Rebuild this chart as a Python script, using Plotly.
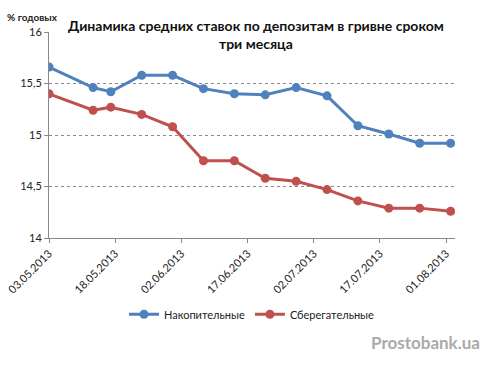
import plotly.graph_objects as go

dates = ["2013-05-03", "2013-05-13", "2013-05-17", "2013-05-24", "2013-05-31", "2013-06-07",
         "2013-06-14", "2013-06-21", "2013-06-28", "2013-07-05", "2013-07-12", "2013-07-19",
         "2013-07-26", "2013-08-02"]
nakop = [15.66, 15.46, 15.42, 15.58, 15.58, 15.45, 15.40, 15.39, 15.46, 15.38, 15.09, 15.01, 14.92, 14.92]
sber = [15.40, 15.24, 15.27, 15.20, 15.08, 14.75, 14.75, 14.58, 14.55, 14.47, 14.36, 14.29, 14.29, 14.26]
tick_dates = ["2013-05-03", "2013-05-18", "2013-06-02", "2013-06-17", "2013-07-02", "2013-07-17", "2013-08-01"]
tick_labels = ["03.05.2013", "18.05.2013", "02.06.2013", "17.06.2013", "02.07.2013", "17.07.2013", "01.08.2013"]
y_ticks = [14, 14.5, 15, 15.5, 16]
y_labels = ["14", "14,5", "15", "15,5", "16"]

FONT = "Lato, 'Open Sans', sans-serif"
BLUE = "#4F81BD"
RED = "#C0504D"

fig = go.Figure()
fig.add_trace(go.Scatter(x=dates, y=nakop, name="Накопительные", mode="lines+markers",
                         line=dict(color=BLUE, width=3), marker=dict(color=BLUE, size=9)))
fig.add_trace(go.Scatter(x=dates, y=sber, name="Сберегательные", mode="lines+markers",
                         line=dict(color=RED, width=3), marker=dict(color=RED, size=9)))

fig.update_layout(
    width=493, height=365,
    margin=dict(l=49, r=38, t=32, b=127, autoexpand=False),
    paper_bgcolor="white", plot_bgcolor="white",
    font=dict(family=FONT, size=11, color="#222"),
    showlegend=True,
    legend=dict(orientation="h", x=0.5, xanchor="center", y=-0.37, yanchor="middle",
                font=dict(size=11, color="#222"), itemwidth=30),
    xaxis=dict(type="date", range=["2013-05-03", "2013-08-03"], automargin=False,
               tickvals=tick_dates, ticktext=tick_labels, tickangle=-45,
               showgrid=False, showline=True, linecolor="#888", linewidth=1,
               ticks="outside", ticklen=4, tickcolor="#888",
               tickfont=dict(size=11, color="#222"), zeroline=False),
    yaxis=dict(range=[14, 16], tickvals=y_ticks, ticktext=y_labels, automargin=False,
               showgrid=True, gridcolor="#888", griddash="dot", gridwidth=1,
               showline=True, linecolor="#888", linewidth=1,
               ticks="outside", ticklen=4, tickcolor="#888",
               tickfont=dict(size=11, color="#222"), zeroline=False),
)

fig.add_annotation(text="<b>Динамика средних ставок по депозитам в гривне сроком<br>три месяца</b>",
                   xref="paper", yref="paper", x=(256 - 49) / 406, y=(238 - 34.5) / 206,
                   xanchor="center", yanchor="middle",
                   showarrow=False, align="center", font=dict(family=FONT, size=14, color="#111"))
fig.add_annotation(text="<b>% годовых</b>", xref="paper", yref="paper",
                   x=-44 / 406, y=(238 - 17) / 206, xanchor="left", yanchor="middle",
                   showarrow=False, font=dict(family=FONT, size=10, color="#222"))
fig.add_annotation(text="<b>Prostobank.ua</b>", xref="paper", yref="paper",
                   x=(482 - 49) / 406, y=(238 - 342) / 206, xanchor="right", yanchor="middle",
                   showarrow=False, font=dict(family=FONT, size=17, color="#aaaaaa"))

fig.write_html("out.html", post_script="document.body.style.margin='0';",
               config={"displayModeBar": False})
